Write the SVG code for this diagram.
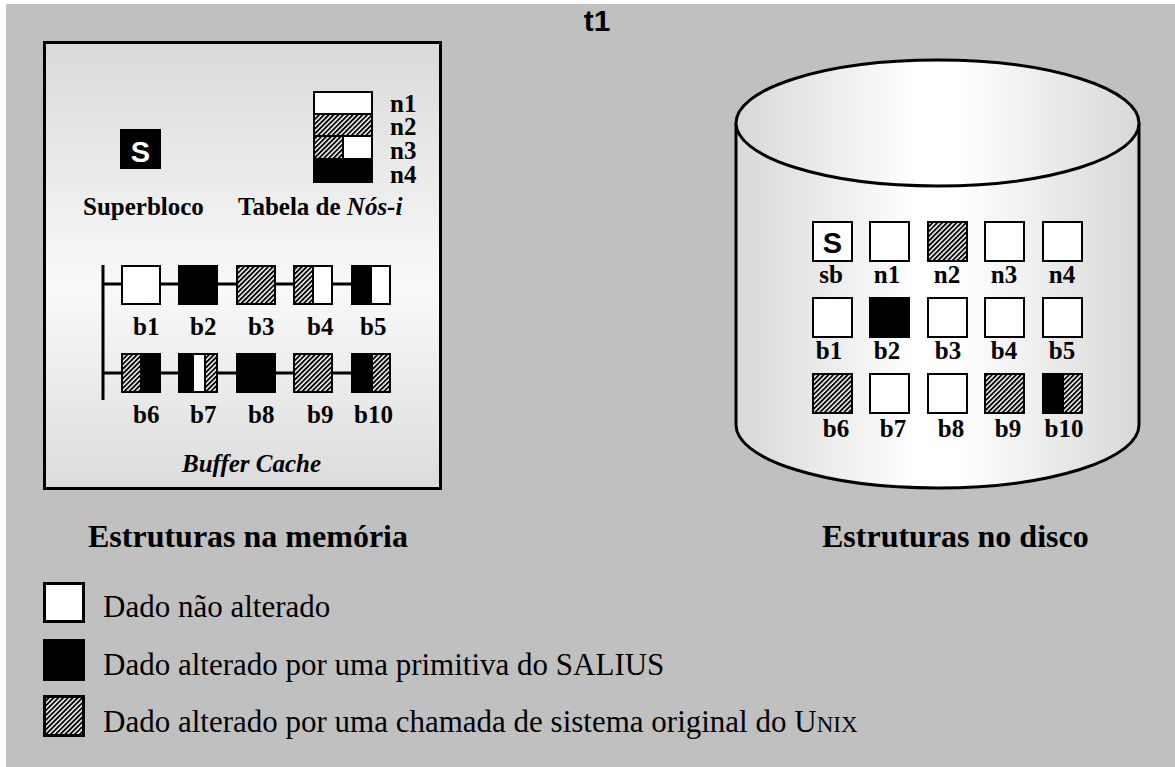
<svg xmlns="http://www.w3.org/2000/svg" width="1175" height="767" viewBox="0 0 1175 767">
<style>
.bx{stroke:#000;stroke-width:2}
.w{fill:#fff}
.k{fill:#000}
.h{fill:url(#hatch)}
.lbl{font-family:"Liberation Serif","Times New Roman",serif;font-weight:bold;font-size:25px;fill:#000}
.big{font-family:"Liberation Serif","Times New Roman",serif;font-weight:bold;font-size:32px;fill:#000}
.leg{font-family:"Liberation Serif","Times New Roman",serif;font-size:31px;fill:#000}
.s{font-family:"Liberation Sans",Arial,sans-serif;font-weight:bold;font-size:29px;text-anchor:middle}
.ln{stroke:#000;stroke-width:3;fill:none}
</style>
<defs>
<pattern id="hatch" patternUnits="userSpaceOnUse" width="3.4" height="3.4" patternTransform="rotate(45)">
<rect width="3.4" height="3.4" fill="#fff"/>
<rect width="1.9" height="3.4" fill="#000"/>
</pattern>
<linearGradient id="memg" x1="0" y1="0" x2="0" y2="1">
<stop offset="0" stop-color="#dadada"/>
<stop offset="0.55" stop-color="#f9f9f9"/>
<stop offset="1" stop-color="#dcdcdc"/>
</linearGradient>
<linearGradient id="cylg" x1="0" y1="0" x2="1" y2="0">
<stop offset="0" stop-color="#d8d8d8"/>
<stop offset="0.45" stop-color="#ffffff"/>
<stop offset="0.55" stop-color="#ffffff"/>
<stop offset="1" stop-color="#d8d8d8"/>
</linearGradient>
</defs>
<rect x="0" y="0" width="1175" height="767" fill="#fff"/>
<rect x="6" y="4" width="1169" height="763" fill="#c0c0c0"/>

<text x="597" y="31" font-family="'Liberation Sans',Arial,sans-serif" font-weight="bold" font-size="30" text-anchor="middle">t1</text>

<g id="memory">
<rect x="44.5" y="42.5" width="396" height="446" fill="url(#memg)" stroke="#000" stroke-width="3"/>
</g>

<g id="superbloco">
<rect x="120" y="129" width="41" height="40" fill="#000"/>
<text class="s" x="140.5" y="162" fill="#fff" font-size="28">S</text>
<text class="lbl" x="83" y="215" font-size="26">Superbloco</text>
</g>

<g id="inode-table">
<rect class="bx w" x="314" y="92" width="58" height="22"/>
<rect class="bx h" x="314" y="114" width="58" height="22"/>
<rect class="bx h" x="314" y="136" width="29" height="23"/>
<rect class="bx w" x="343" y="136" width="29" height="23"/>
<rect class="bx k" x="314" y="159" width="58" height="23"/>
<text class="lbl" x="390" y="112" font-size="23">n1</text>
<text class="lbl" x="390" y="135" font-size="23">n2</text>
<text class="lbl" x="390" y="159" font-size="23">n3</text>
<text class="lbl" x="390" y="183" font-size="23">n4</text>
<text class="lbl" x="238" y="215" font-size="26">Tabela de <tspan font-style="italic">Nós-i</tspan></text>
</g>

<g id="connectors">
<line class="ln" x1="103" y1="265" x2="103" y2="400"/>
<line class="ln" x1="103" y1="284" x2="370" y2="284"/>
<line class="ln" x1="103" y1="373" x2="370" y2="373"/>
</g>

<g id="buffer-cache">
<g id="mb1"><rect class="bx w" x="122" y="266" width="38" height="38"/></g>
<g id="mb2"><rect class="bx k" x="179" y="266" width="38" height="38"/></g>
<g id="mb3"><rect class="bx h" x="237" y="266" width="38" height="38"/></g>
<g id="mb4"><rect class="bx h" x="294" y="266" width="19" height="38"/><rect class="bx w" x="313" y="266" width="19" height="38"/></g>
<g id="mb5"><rect class="bx k" x="352" y="266" width="19" height="38"/><rect class="bx w" x="371" y="266" width="19" height="38"/></g>
<g id="mb6"><rect class="bx h" x="122" y="354" width="19" height="38"/><rect class="bx k" x="141" y="354" width="19" height="38"/></g>
<g id="mb7"><rect class="bx k" x="179" y="354" width="14" height="38"/><rect class="bx w" x="193" y="354" width="12" height="38"/><rect class="bx h" x="205" y="354" width="12" height="38"/></g>
<g id="mb8"><rect class="bx k" x="237" y="354" width="38" height="38"/></g>
<g id="mb9"><rect class="bx h" x="294" y="354" width="38" height="38"/></g>
<g id="mb10"><rect class="bx k" x="352" y="354" width="20" height="38"/><rect class="bx h" x="372" y="354" width="18" height="38"/></g>
<text class="lbl" x="133" y="335">b1</text>
<text class="lbl" x="190" y="335">b2</text>
<text class="lbl" x="248" y="335">b3</text>
<text class="lbl" x="307" y="335">b4</text>
<text class="lbl" x="360" y="335">b5</text>
<text class="lbl" x="133" y="423">b6</text>
<text class="lbl" x="190" y="423">b7</text>
<text class="lbl" x="248" y="423">b8</text>
<text class="lbl" x="307" y="423">b9</text>
<text class="lbl" x="354" y="423">b10</text>
<text class="lbl" x="182" y="472" font-size="26" font-style="italic">Buffer Cache</text>
</g>

<g id="disk">
<path d="M736,123 L736,425 A201.5,63 0 0 0 1139,425 L1139,123" fill="url(#cylg)" stroke="#000" stroke-width="3"/>
<ellipse cx="937.5" cy="123" rx="201.5" ry="63" fill="url(#cylg)" stroke="#000" stroke-width="3"/>
</g>

<g id="disk-blocks">
<g id="dsb"><rect class="bx w" x="813" y="222" width="39" height="39"/><text class="s" x="832.5" y="253" fill="#000">S</text></g>
<rect class="bx w" x="870" y="222" width="39" height="39"/>
<rect class="bx h" x="928" y="222" width="39" height="39"/>
<rect class="bx w" x="985" y="222" width="39" height="39"/>
<rect class="bx w" x="1043" y="222" width="39" height="39"/>
<rect class="bx w" x="813" y="298" width="39" height="39"/>
<rect class="bx k" x="870" y="298" width="39" height="39"/>
<rect class="bx w" x="928" y="298" width="39" height="39"/>
<rect class="bx w" x="985" y="298" width="39" height="39"/>
<rect class="bx w" x="1043" y="298" width="39" height="39"/>
<rect class="bx h" x="813" y="374" width="39" height="39"/>
<rect class="bx w" x="870" y="374" width="39" height="39"/>
<rect class="bx w" x="928" y="374" width="39" height="39"/>
<rect class="bx h" x="985" y="374" width="39" height="39"/>
<rect class="bx k" x="1043" y="374" width="20" height="39"/>
<rect class="bx h" x="1063" y="374" width="19" height="39"/>
<g class="lbl" text-anchor="middle">
<text x="831" y="283">sb</text>
<text x="887" y="283">n1</text>
<text x="947" y="283">n2</text>
<text x="1004" y="283">n3</text>
<text x="1062" y="283">n4</text>
<text x="829" y="359">b1</text>
<text x="887" y="359">b2</text>
<text x="948" y="359">b3</text>
<text x="1004" y="359">b4</text>
<text x="1062" y="359">b5</text>
<text x="836" y="437">b6</text>
<text x="893" y="437">b7</text>
<text x="951" y="437">b8</text>
<text x="1008" y="437">b9</text>
<text x="1064" y="437">b10</text>
</g>
</g>

<text class="big" x="88" y="547">Estruturas na memória</text>
<text class="big" x="822" y="547">Estruturas no disco</text>

<g id="legend">
<rect x="44.5" y="583.5" width="39" height="38" fill="#fff" stroke="#000" stroke-width="3"/>
<rect x="44.5" y="640.5" width="39" height="39" fill="#000" stroke="#000" stroke-width="3"/>
<rect x="44.5" y="696.5" width="39" height="39" class="h" stroke="#000" stroke-width="3"/>
<text class="leg" x="103" y="617">Dado não alterado</text>
<text class="leg" x="103" y="675">Dado alterado por uma primitiva do SALIUS</text>
<text class="leg" x="103" y="732">Dado alterado por uma chamada de sistema original do U<tspan font-size="23">NIX</tspan></text>
</g>
</svg>
